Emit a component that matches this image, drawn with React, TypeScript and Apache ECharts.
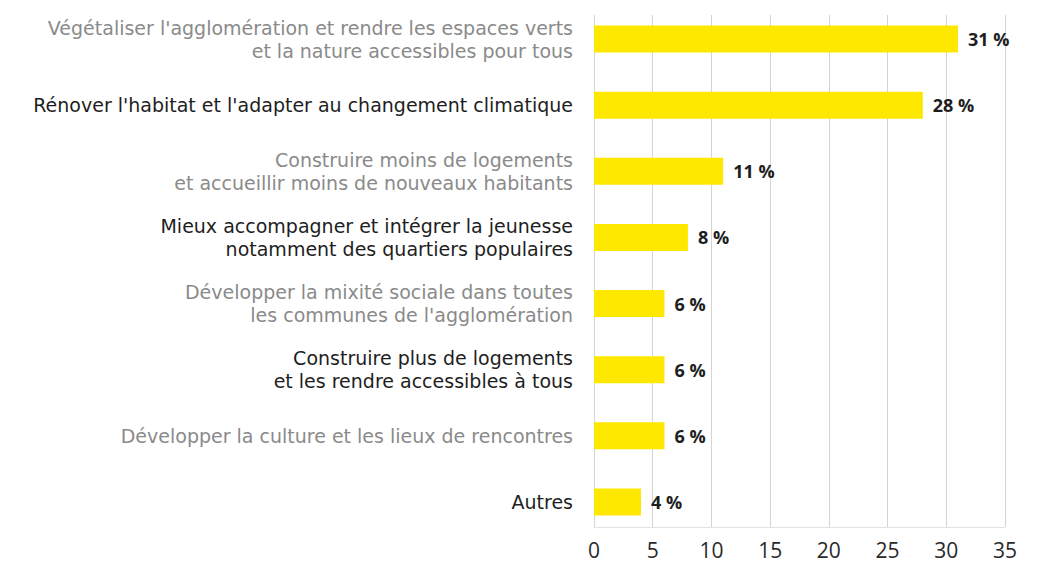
import React, { useEffect, useRef } from "react";
import * as echarts from "echarts";

const categories = [
  "Végétaliser l'agglomération et rendre les espaces verts\net la nature accessibles pour tous",
  "Rénover l'habitat et l'adapter au changement climatique",
  "Construire moins de logements\net accueillir moins de nouveaux habitants",
  "Mieux accompagner et intégrer la jeunesse\nnotamment des quartiers populaires",
  "Développer la mixité sociale dans toutes\nles communes de l'agglomération",
  "Construire plus de logements\net les rendre accessibles à tous",
  "Développer la culture et les lieux de rencontres",
  "Autres",
];
const values = [31, 28, 11, 8, 6, 6, 6, 4];
const labelColors = ["#8a8a8a", "#1e1e1e", "#8a8a8a", "#1e1e1e", "#8a8a8a", "#1e1e1e", "#8a8a8a", "#1e1e1e"];
const xMin = 0;
const xMax = 35;
const xStep = 5;

export default function App() {
  const ref = useRef<HTMLDivElement>(null);
  useEffect(() => {
    document.body.style.margin = "0";
    const chart = echarts.init(ref.current!, null, { renderer: "svg" });
    chart.setOption({
      animation: false,
      backgroundColor: "#ffffff",
      grid: [
        { left: 594, right: 41, top: 6, bottom: 30, containLabel: false },
        { left: 594, right: 41, top: 15, bottom: 38, containLabel: false },
      ],
      xAxis: [
        {
          type: "value",
          gridIndex: 0,
          min: xMin,
          max: xMax,
          interval: xStep,
          show: false,
        },
        {
          type: "value",
          gridIndex: 1,
          min: xMin,
          max: xMax,
          interval: xStep,
          axisLine: { show: true, lineStyle: { color: "#e2e2e2", width: 1 } },
          axisTick: { show: false },
          splitLine: { show: true, lineStyle: { color: "#d4d4d4", width: 1 } },
          axisLabel: {
            color: "#2a2a2a",
            fontSize: 21,
            fontFamily: "Open Sans",
            margin: 12,
          },
        },
      ],
      yAxis: [
        {
          type: "category",
          gridIndex: 0,
          data: categories,
          inverse: true,
          axisLine: { show: false },
          axisTick: { show: false },
          splitLine: { show: false },
          axisLabel: {
            fontSize: 19,
            fontFamily: "DejaVu Sans",
            lineHeight: 23,
            margin: 21,
            align: "right",
            color: (_v: any, i: number) => labelColors[i],
          },
        },
        {
          type: "value",
          gridIndex: 1,
          show: false,
        },
      ],
      series: [
        {
          type: "bar",
          xAxisIndex: 0,
          yAxisIndex: 0,
          data: values,
          barWidth: 27,
          itemStyle: { color: "#FFE800" },
          label: {
            show: true,
            position: "right",
            distance: 10,
            formatter: "{c} %",
            fontSize: 18,
            fontWeight: "bold",
            fontFamily: "Open Sans",
            color: "#1e1e1e",
          },
        },
      ],
    });
    return () => chart.dispose();
  }, []);
  return <div ref={ref} style={{ width: 1046, height: 565, position: "absolute", left: 0, top: 0 }} />;
}
